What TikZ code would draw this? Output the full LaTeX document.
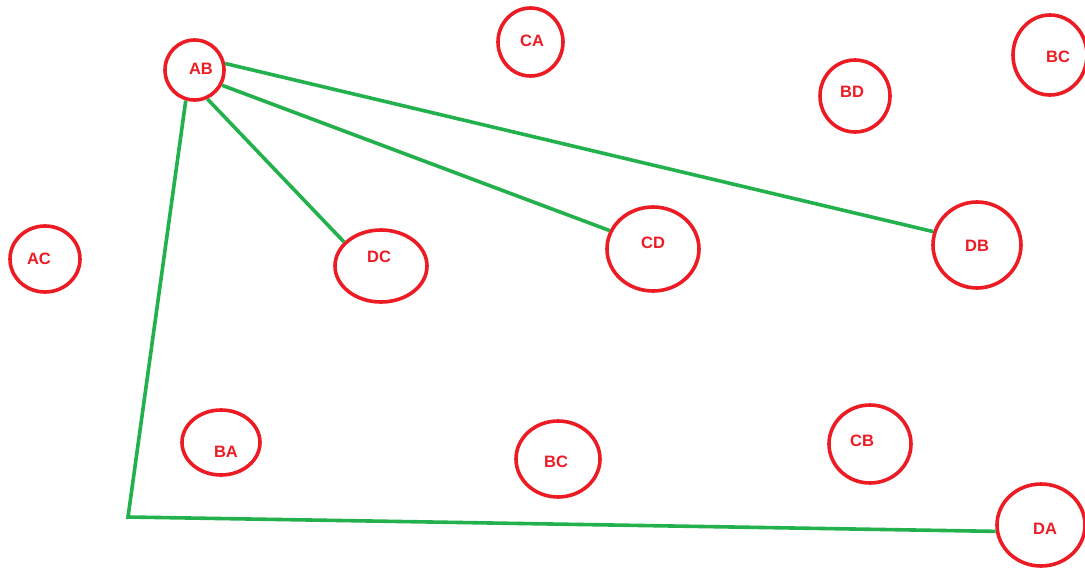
\documentclass[tikz,border=0pt]{standalone}
\usepackage{fontspec}
\setmainfont{Liberation Sans}
\usetikzlibrary{shapes.geometric}
\definecolor{pred}{RGB}{237,28,36}
\definecolor{pgreen}{RGB}{34,177,76}
\tikzset{
  oval/.style={ellipse, draw=pred, line width=3.6pt, inner sep=0pt, fill=white},
  lbl/.style={text=pred, font=\fontsize{16.5}{18}\selectfont\bfseries, inner sep=0pt},
  link/.style={draw=pgreen, line width=3.6pt}
}
\newcommand{\myoval}[5]{% name, x, y, rx, ry
  \node[oval, minimum width=#4*2pt, minimum height=#5*2pt] (#1) at (#2,#3) {};}
\begin{document}
\begin{tikzpicture}[x=1pt,y=-1pt]
\useasboundingbox (0,0) rectangle (1085,568);
\coordinate (corner) at (128,517);
\myoval{ab}{194.5}{70}{29.5}{30}
\myoval{ca}{530.5}{42}{32.5}{34}
\myoval{bct}{1050}{55}{37}{40}
\myoval{bd}{855}{96}{35}{36}
\myoval{ac}{45}{259}{35}{33}
\myoval{dc}{381}{266}{46}{36}
\myoval{cd}{653}{249}{46}{42}
\myoval{db}{977}{245}{44}{43}
\myoval{ba}{221}{442.5}{39}{32.5}
\myoval{bcb}{558}{459}{42}{38}
\myoval{cb}{870}{444}{41}{39}
\myoval{da}{1041}{525}{44}{41}
\draw[link] (ab.12) -- (db.163);
\draw[link] (ab.-29) -- (cd.157);
\draw[link] (ab.-66) -- (dc.147);
\draw[link, line join=miter] (ab.-106) -- (corner) -- (da.-172);
\node[lbl] (tab) at (201,69) {AB};
\node[lbl] (tca) at (532,41) {CA};
\node[lbl] (tbct) at (1058,57) {BC};
\node[lbl] (tbd) at (852,92) {BD};
\node[lbl] (tac) at (39,259) {AC};
\node[lbl] (tdc) at (379,257) {DC};
\node[lbl] (tcd) at (653,243) {CD};
\node[lbl] (tdb) at (977,246) {DB};
\node[lbl] (tba) at (226,452) {BA};
\node[lbl] (tbcb) at (556,462) {BC};
\node[lbl] (tcb) at (862,441) {CB};
\node[lbl] (tda) at (1045,529) {DA};
\end{tikzpicture}
\end{document}
